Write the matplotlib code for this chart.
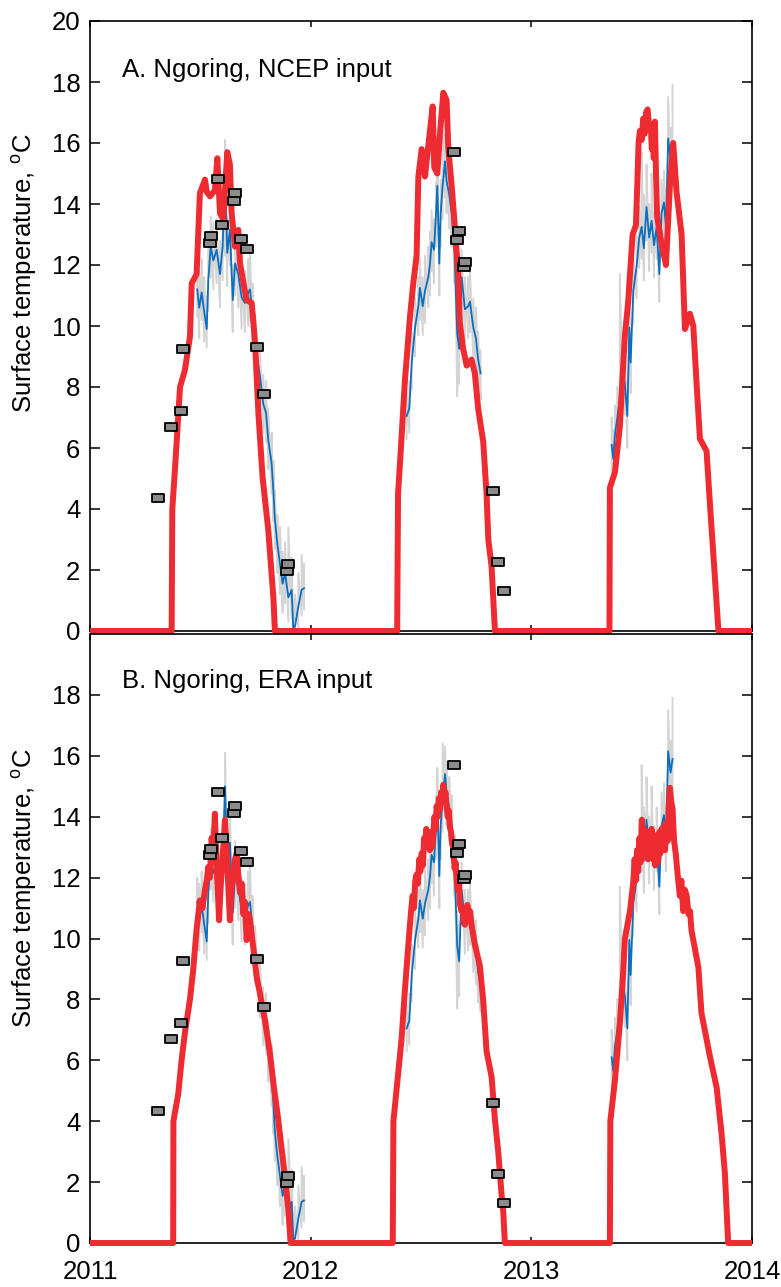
import numpy as np
import matplotlib
matplotlib.use('Agg')
import matplotlib.pyplot as plt
from matplotlib.path import Path

plt.rcParams['font.family'] = ['Liberation Sans', 'DejaVu Sans']
plt.rcParams['mathtext.fontset'] = 'custom'
plt.rcParams['mathtext.rm'] = 'Liberation Sans'

# ---------------- data (time in decimal years, temperature in deg C) ----------------
# Modelled surface temperature, NCEP input (panel A)
model_ncep_t = [2011.000, 2011.370, 2011.373, 2011.385, 2011.408, 2011.430, 2011.453, 2011.461, 2011.483,
                2011.498, 2011.521, 2011.529, 2011.544, 2011.566, 2011.577, 2011.589, 2011.604, 2011.622,
                2011.634, 2011.642, 2011.657, 2011.672, 2011.680, 2011.698, 2011.710, 2011.733, 2011.748,
                2011.763, 2011.782, 2011.808, 2011.831, 2011.838,
                2012.392, 2012.396, 2012.409, 2012.427, 2012.450, 2012.465, 2012.480, 2012.488, 2012.503,
                2012.518, 2012.533, 2012.553, 2012.560, 2012.574, 2012.586, 2012.601, 2012.616, 2012.624,
                2012.639, 2012.654, 2012.669, 2012.676, 2012.691, 2012.707, 2012.729, 2012.744, 2012.759,
                2012.782, 2012.797, 2012.805, 2012.820, 2012.835,
                2013.354, 2013.356, 2013.379, 2013.401, 2013.424, 2013.439, 2013.459, 2013.474, 2013.480,
                2013.486, 2013.492, 2013.500, 2013.507, 2013.513, 2013.520, 2013.527, 2013.534, 2013.541,
                2013.546, 2013.550, 2013.555, 2013.560, 2013.565, 2013.570, 2013.590, 2013.610, 2013.628,
                2013.643, 2013.658, 2013.681, 2013.696, 2013.719, 2013.734, 2013.749, 2013.764, 2013.794,
                2013.810, 2013.825, 2013.848, 2014.000]
model_ncep_v = [0, 0, 4.0, 5.3, 8.0, 8.55, 9.65, 11.4, 11.7,
                14.35, 14.8, 14.4, 14.25, 14.45, 15.5, 13.7, 13.5, 15.7,
                15.3, 13.7, 12.6, 13.15, 12.05, 11.3, 10.85, 10.75, 9.45,
                7.15, 5.05, 3.3, 1.1, 0,
                0, 4.5, 6.0, 8.2, 10.3, 11.4, 12.3, 14.9, 15.8,
                14.9, 15.9, 17.2, 15.2, 15.0, 16.3, 17.65, 17.4, 15.8,
                14.6, 13.2, 11.7, 10.1, 9.25, 8.7, 8.9, 8.45, 7.3,
                6.2, 4.5, 3.0, 2.1, 0,
                0, 4.7, 5.2, 6.7, 9.7, 10.8, 13.0, 13.3, 14.6,
                16.0, 16.4, 16.1, 16.8, 16.3, 17.0, 17.1, 16.5, 16.6,
                15.8, 16.3, 15.5, 16.7, 15.0, 13.6, 12.7, 12.0, 14.6,
                16.0, 14.4, 13.0, 9.9, 10.4, 10.0, 8.1, 6.3, 5.9,
                4.1, 2.5, 0, 0]

# Modelled surface temperature, ERA input (panel B)
model_era_t = [2011.000, 2011.377, 2011.378, 2011.400, 2011.415, 2011.430, 2011.453, 2011.468, 2011.483,
               2011.498, 2011.510, 2011.521, 2011.529, 2011.536, 2011.544, 2011.551, 2011.559, 2011.566,
               2011.574, 2011.585, 2011.591, 2011.597, 2011.604, 2011.612, 2011.617, 2011.622, 2011.628,
               2011.634, 2011.641, 2011.649, 2011.657, 2011.665, 2011.672, 2011.680, 2011.688, 2011.695,
               2011.702, 2011.710, 2011.718, 2011.725, 2011.733, 2011.740, 2011.755, 2011.770, 2011.793,
               2011.816, 2011.831, 2011.853, 2011.869, 2011.884, 2011.899, 2011.909,
               2012.372, 2012.375, 2012.390, 2012.412, 2012.427, 2012.447, 2012.455, 2012.462, 2012.468,
               2012.474, 2012.480, 2012.486, 2012.492, 2012.497, 2012.503, 2012.509, 2012.514, 2012.518,
               2012.524, 2012.529, 2012.533, 2012.540, 2012.546, 2012.551, 2012.556, 2012.561, 2012.566,
               2012.571, 2012.576, 2012.581, 2012.586, 2012.591, 2012.596, 2012.601, 2012.606, 2012.611,
               2012.616, 2012.621, 2012.626, 2012.631, 2012.636, 2012.641, 2012.646, 2012.652, 2012.657,
               2012.662, 2012.667, 2012.671, 2012.676, 2012.683, 2012.689, 2012.694, 2012.699, 2012.705,
               2012.710, 2012.716, 2012.722, 2012.730, 2012.737, 2012.744, 2012.767, 2012.782, 2012.797,
               2012.820, 2012.835, 2012.850, 2012.865, 2012.873, 2012.880,
               2013.356, 2013.358, 2013.379, 2013.401, 2013.416, 2013.424, 2013.447, 2013.462, 2013.468,
               2013.473, 2013.479, 2013.484, 2013.490, 2013.495, 2013.501, 2013.507, 2013.512, 2013.517,
               2013.522, 2013.528, 2013.534, 2013.540, 2013.545, 2013.551, 2013.557, 2013.562, 2013.568,
               2013.574, 2013.580, 2013.585, 2013.590, 2013.596, 2013.601, 2013.606, 2013.612, 2013.618,
               2013.623, 2013.628, 2013.634, 2013.640, 2013.647, 2013.655, 2013.663, 2013.673, 2013.680,
               2013.688, 2013.696, 2013.704, 2013.712, 2013.719, 2013.726, 2013.734, 2013.757, 2013.771,
               2013.810, 2013.840, 2013.862, 2013.877, 2013.892, 2014.000]
model_era_v = [0, 0, 4.0, 4.9, 6.0, 6.9, 8.0, 9.0, 10.3,
               11.25, 11.0, 11.6, 11.9, 12.35, 12.0, 13.3, 12.9, 14.1,
               12.35, 10.6, 11.6, 12.2, 13.0, 13.9, 13.1, 12.55, 11.5,
               10.6, 11.6, 12.0, 12.6, 12.8, 12.1, 11.5, 11.8, 10.8,
               11.2, 9.95, 10.8, 10.6, 10.1, 9.7, 8.75, 8.2, 7.3,
               6.2, 5.25, 4.05, 3.05, 2.15, 1.1, 0,
               0, 4.0, 5.1, 6.7, 8.3, 10.2, 10.9, 11.4, 11.0,
               11.9, 12.1, 11.8, 12.6, 12.2, 12.8, 12.4, 13.3, 13.0,
               13.6, 13.1, 13.45, 12.9, 13.5, 13.0, 13.4, 14.0, 13.6,
               14.35, 14.0, 14.6, 14.25, 14.8, 14.5, 15.05, 14.6, 14.8,
               14.35, 14.0, 14.2, 13.65, 13.5, 13.1, 13.0, 12.3, 12.5,
               11.85, 11.6, 11.9, 11.15, 10.9, 11.0, 10.5, 10.45, 10.6,
               11.1, 10.6, 10.9, 10.4, 10.1, 9.8, 9.1, 7.95, 6.3,
               5.45, 4.05, 3.0, 1.6, 1.0, 0,
               0, 4.0, 5.35, 7.2, 8.85, 10.0, 10.9, 11.85, 12.6,
               11.9, 12.9, 12.2, 13.3, 12.5, 13.9, 13.0, 13.6, 12.7,
               13.5, 12.6, 13.5, 12.7, 13.6, 12.6, 13.4, 12.4, 13.2,
               12.5, 13.5, 12.8, 13.6, 12.9, 13.7, 12.9, 13.8, 13.2,
               14.3, 14.95, 14.5, 14.25, 13.2, 12.75, 12.1, 11.4, 11.9,
               10.9, 11.6, 11.4, 10.8, 10.9, 10.25, 9.95, 9.05, 7.55,
               6.1, 5.1, 3.6, 2.3, 0, 0]

# Observed (daily) surface temperature, three seasons
obs_t_2011 = [2011.486, 2011.495, 2011.506, 2011.517, 2011.529, 2011.536, 2011.547, 2011.559, 2011.574,
              2011.589, 2011.601, 2011.612, 2011.622, 2011.634, 2011.647, 2011.657, 2011.672, 2011.687,
              2011.702, 2011.717, 2011.725, 2011.736, 2011.748, 2011.770, 2011.785, 2011.798, 2011.808,
              2011.823, 2011.831, 2011.838, 2011.849, 2011.861, 2011.873, 2011.884, 2011.899, 2011.914,
              2011.921, 2011.929, 2011.944, 2011.959, 2011.970]
obs_v_2011 = [11.2, 10.6, 11.1, 10.5, 9.9, 11.5, 12.6, 12.15, 12.5,
              11.7, 12.6, 15.0, 12.4, 13.15, 10.85, 12.05, 11.7, 10.95,
              10.75, 11.1, 11.2, 10.4, 9.45, 8.35, 7.45, 7.15, 6.25,
              5.5, 4.6, 3.65, 2.85, 2.2, 1.55, 1.9, 1.1, 1.35,
              0.1, 0.15, 0.8, 1.35, 1.4]
obs_hi_2011 = [12.0, 11.8, 12.2, 11.6, 11.0, 12.6, 13.6, 13.4, 13.5,
               12.8, 13.8, 16.1, 13.6, 14.2, 12.0, 13.2, 12.7, 12.0,
               11.8, 12.2, 12.4, 11.4, 10.4, 9.3, 8.4, 8.2, 7.3,
               6.5, 5.6, 4.6, 3.8, 3.4, 2.6, 2.9, 3.4, 2.4,
               1.0, 1.2, 1.9, 2.5, 2.2]
obs_lo_2011 = [10.3, 9.6, 10.2, 9.5, 9.3, 10.5, 11.6, 11.2, 11.4,
               10.6, 11.5, 12.3, 11.3, 12.0, 9.8, 11.0, 10.6, 9.9,
               9.8, 10.0, 10.2, 9.4, 8.5, 7.4, 6.5, 6.2, 5.3,
               4.5, 3.6, 2.7, 1.9, 1.2, 0.6, 0.9, 0.3, 0.4,
               0.0, 0.0, 0.1, 0.5, 0.7]

obs_t_2012 = [2012.435, 2012.447, 2012.458, 2012.473, 2012.488, 2012.495, 2012.508, 2012.518, 2012.533,
              2012.541, 2012.548, 2012.559, 2012.568, 2012.574, 2012.583, 2012.589, 2012.598, 2012.609,
              2012.616, 2012.628, 2012.639, 2012.652, 2012.664, 2012.673, 2012.684, 2012.699, 2012.714,
              2012.722, 2012.737, 2012.749, 2012.759, 2012.770]
obs_v_2012 = [7.05, 7.3, 8.8, 9.95, 10.65, 11.25, 10.65, 11.15, 11.6,
              12.05, 12.75, 12.5, 13.7, 14.6, 12.05, 13.7, 14.6, 15.4,
              14.75, 14.3, 13.7, 12.4, 9.75, 9.25, 11.6, 10.55, 10.65,
              10.8, 9.95, 9.6, 8.9, 8.45]
obs_hi_2012 = [7.8, 8.2, 9.8, 10.9, 11.6, 12.2, 11.6, 12.3, 12.6,
               13.1, 13.8, 13.5, 14.7, 15.6, 13.2, 14.8, 16.4, 16.3,
               15.8, 15.3, 14.7, 13.4, 10.9, 10.4, 12.5, 11.6, 11.6,
               11.8, 10.9, 10.6, 9.8, 9.2]
obs_lo_2012 = [6.3, 6.5, 7.9, 9.0, 9.7, 10.2, 9.7, 10.1, 10.6,
               11.0, 11.8, 11.4, 12.6, 13.5, 11.0, 12.6, 13.5, 14.2,
               13.7, 13.2, 12.6, 11.4, 7.7, 8.1, 10.6, 9.5, 9.6,
               9.8, 8.9, 8.5, 7.9, 7.6]

obs_t_2013 = [2013.364, 2013.371, 2013.379, 2013.389, 2013.401, 2013.414, 2013.424, 2013.435, 2013.444,
              2013.450, 2013.462, 2013.477, 2013.489, 2013.500, 2013.510, 2013.522, 2013.534, 2013.545,
              2013.556, 2013.568, 2013.580, 2013.590, 2013.601, 2013.610, 2013.620, 2013.631, 2013.640]
obs_v_2013 = [6.1, 5.65, 6.45, 6.95, 7.65, 8.55, 8.1, 7.05, 9.95,
              8.8, 11.15, 11.95, 12.9, 13.25, 12.55, 13.9, 12.9, 13.45,
              12.65, 13.25, 11.7, 13.7, 14.05, 13.25, 16.15, 15.45, 15.9]
obs_hi_2013 = [7.0, 6.6, 7.4, 8.0, 11.7, 9.6, 9.1, 8.1, 11.0,
               9.9, 12.2, 13.0, 13.9, 15.7, 14.3, 15.3, 14.0, 15.0,
               13.7, 14.3, 12.8, 14.8, 15.1, 14.3, 17.5, 16.5, 17.9]
obs_lo_2013 = [5.1, 4.8, 5.5, 6.0, 6.7, 7.5, 7.1, 6.0, 8.9,
               7.8, 10.1, 10.9, 11.9, 12.2, 11.5, 12.8, 11.8, 12.4,
               11.6, 12.2, 10.8, 12.6, 13.0, 12.2, 15.0, 14.4, 14.8]

# Point measurements (grey boxes)
point_t = [2011.309, 2011.367, 2011.412, 2011.423, 2011.544, 2011.548, 2011.579, 2011.598,
           2011.654, 2011.657, 2011.684, 2011.710, 2011.757, 2011.787, 2011.893, 2011.896,
           2012.649, 2012.664, 2012.673, 2012.695, 2012.699, 2012.827, 2012.847, 2012.876]
point_v = [4.35, 6.7, 7.21, 9.25, 12.73, 12.95, 14.81, 13.31,
           14.11, 14.35, 12.86, 12.51, 9.32, 7.76, 1.98, 2.2,
           15.7, 12.82, 13.11, 11.94, 12.09, 4.6, 2.26, 1.31]

year_ticks = [2011, 2012, 2013, 2014]
year_labels = ['2011', '2012', '2013', '2014']
panel_titles = ['A. Ngoring, NCEP input', 'B. Ngoring, ERA input']
ylabel_text = 'Surface temperature, $^{\\rm o}$C'

# ---------------- figure ----------------
W, H = 781, 1287
fig = plt.figure(figsize=(W / 100, H / 100), dpi=100)
axA = fig.add_axes([90 / W, 1 - 631 / H, 662 / W, 610 / H])
axB = fig.add_axes([90 / W, 1 - 1243 / H, 662 / W, 609 / H])

RED = '#ED2B30'
BLUE = '#0B6FBE'
GRAY = '#D4D4D4'
FS = 18.5

box = Path([(-1, -0.58), (1, -0.58), (1, 0.58), (-1, 0.58), (-1, -0.58)],
           [Path.MOVETO, Path.LINETO, Path.LINETO, Path.LINETO, Path.CLOSEPOLY])

obs_sets = [(obs_t_2011, obs_v_2011, obs_lo_2011, obs_hi_2011),
            (obs_t_2012, obs_v_2012, obs_lo_2012, obs_hi_2012),
            (obs_t_2013, obs_v_2013, obs_lo_2013, obs_hi_2013)]

for ax, mt, mv, title, ty, yt in [(axA, model_ncep_t, model_ncep_v, panel_titles[0], 18.15, range(0, 21, 2)),
                                  (axB, model_era_t, model_era_v, panel_titles[1], 18.24, range(0, 19, 2))]:
    for t, v, lo, hi in obs_sets:
        t = np.asarray(t)
        zz_t = np.repeat(t, 2)
        zz_v = np.column_stack((lo, hi)).ravel()
        ax.plot(zz_t, zz_v, color=GRAY, lw=1.4, zorder=1)
        ax.plot(t, v, color=BLUE, lw=1.3, zorder=2)
    ax.plot(mt, mv, color=RED, lw=4.3, solid_joinstyle='round', solid_capstyle='butt',
            zorder=3, clip_on=False)
    ax.plot(point_t, point_v, linestyle='none', marker=box, markersize=8.8,
            markerfacecolor='#8C8C8C', markeredgecolor='black', markeredgewidth=1.3, zorder=4)

    ax.set_xlim(2011, 2014)
    ax.set_ylim(0, 20)
    ax.set_xticks(year_ticks)
    ax.set_yticks(list(yt))
    ax.tick_params(axis='both', direction='in', top=True, right=True, labelsize=FS,
                   width=1.1, colors='black')
    ax.tick_params(axis='y', length=7, pad=7)
    ax.tick_params(axis='x', length=4.5, pad=12)
    for s in ax.spines.values():
        s.set_linewidth(1.2)
    ax.text(2011.145, ty, title, fontsize=FS, va='baseline', ha='left')

axA.set_xticklabels([])
axB.set_xticklabels(year_labels)

fig.text(24 / W, 1 - 273 / H, ylabel_text, rotation=90, ha='center', va='center', fontsize=FS)
fig.text(24 / W, 1 - 888 / H, ylabel_text, rotation=90, ha='center', va='center', fontsize=FS)

fig.savefig('out.png', dpi=100)
